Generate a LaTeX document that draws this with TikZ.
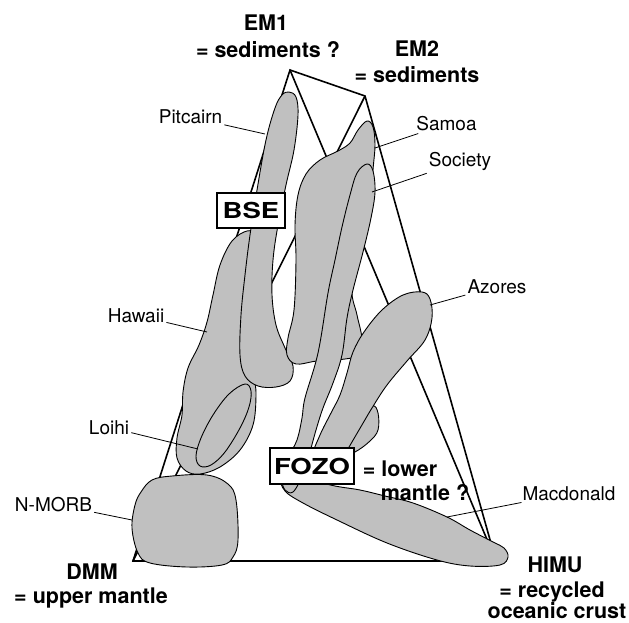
\documentclass[tikz,border=0pt]{standalone}
\usepackage{graphicx}
\usepackage{fontspec}
\setmainfont{TeX Gyre Heros}
\usetikzlibrary{positioning}
\definecolor{blobgray}{RGB}{192,192,192}

\begin{document}
\begin{tikzpicture}[x=1pt,y=-1pt,
  tetra/.style={line width=1.6pt,line join=miter},
  blob/.style={draw=black,line width=0.9pt,fill=blobgray},
  leader/.style={line width=0.8pt},
  lbl/.style={font=\fontsize{19}{22}\selectfont,inner sep=2pt,anchor=base},
  endlbl/.style={font=\fontsize{21.5}{24}\selectfont\bfseries,inner sep=0pt,anchor=base},
  boxlbl/.style={draw,line width=1.8pt,fill=white,font=\fontsize{22}{24}\selectfont\bfseries,inner sep=0pt}]
  \useasboundingbox (0,0) rectangle (629,623);
  % End members of the tetrahedron
  \coordinate (em1) at (290,70);
  \coordinate (em2) at (365,96);
  \coordinate (dmm) at (133,561);
  \coordinate (himu) at (496,561);
  \draw[tetra] (em1) -- (em2) -- (himu) -- (dmm) -- cycle;
  \draw[tetra] (em1) -- (himu);
  \draw[tetra] (em2) -- (dmm);
  % Hawaii, Pitcairn, Loihi
  \draw[blob] plot[smooth cycle,tension=0.6] coordinates {(247,231) (254,236) (258,262) (256,300) (254,340) (254,372) (256,395) (253,425) (240,450) (220,467) (200,474) (186,471) (177,458) (177,438) (182,415) (183,392) (188,368) (199,345) (207,322) (213,295) (220,265) (232,241)};
  \draw[blob] plot[smooth cycle,tension=0.6] coordinates {(289,92) (296,97) (298,115) (294,150) (286,185) (278,225) (273,260) (272,295) (276,325) (285,348) (293,366) (290,381) (276,387) (258,386) (245,376) (240,355) (241,315) (245,275) (250,235) (257,190) (266,140) (275,108) (282,95)};
  \draw[blob] plot[smooth cycle,tension=0.6] coordinates {(245,384) (251,391) (249,407) (240,428) (225,452) (211,465) (200,466) (196,456) (201,438) (213,415) (229,394)};
  % N-MORB
  \draw[blob] plot[smooth cycle,tension=0.6] coordinates {(152,480) (172,476) (207,475) (228,484) (236,500) (238,540) (233,557) (222,565) (187,567) (150,563) (138,553) (132,528) (135,505) (141,492)};
  % Samoa
  \draw[blob] plot[smooth cycle,tension=0.6] coordinates {(367,121) (373,127) (375,145) (373,170) (370,210) (360,255) (352,290) (357,315) (362,340) (357,355) (345,359) (317,361) (296,364) (287,355) (288,338) (294,310) (296,260) (295,225) (298,195) (306,174) (320,160) (338,151) (350,143) (358,130)};
  % Macdonald
  \draw[blob] plot[smooth cycle,tension=0.6] coordinates {(282,478) (305,479) (335,486) (360,490) (385,496) (413,503) (447,517) (470,530) (493,542) (504,548) (508,557) (500,565) (470,566) (437,560) (387,543) (337,520) (303,503) (285,491)};
  % Society
  \draw[blob] plot[smooth cycle,tension=0.6] coordinates {(367,164) (373,171) (375,192) (371,218) (363,252) (353,290) (347,318) (342,355) (333,383) (323,408) (316,430) (309,455) (301,478) (293,492) (285,490) (282,478) (288,458) (297,440) (302,418) (305,398) (318,353) (328,293) (335,260) (342,227) (350,195) (357,173)};
  % Azores
  \draw[blob] plot[smooth cycle,tension=0.6] coordinates {(372,406) (378,413) (378,430) (370,441) (355,452) (338,458) (340,440) (355,420)};
  \draw[blob] plot[smooth cycle,tension=0.6] coordinates {(422,292) (430,299) (432,318) (425,340) (407,361) (387,385) (372,408) (359,430) (346,452) (333,472) (318,476) (312,458) (320,435) (331,413) (340,395) (347,373) (353,352) (364,332) (382,310) (403,295)};
  % Mantle reservoirs
  \node[boxlbl,minimum width=68pt,minimum height=35pt] (bse) at (251,210.5) {\scalebox{1.25}[1]{BSE}};
  \node[boxlbl,minimum width=84pt,minimum height=36pt] (fozo) at (312,466) {\scalebox{1.25}[1]{FOZO}};
  \node[endlbl] (fozo-a) at (400,476) {= lower};
  \node[endlbl] (fozo-b) at (425,500) {mantle ?};
  \node[endlbl] (em1-a) at (266,31) {EM1};
  \node[endlbl] (em1-b) at (268,58) {= sediments ?};
  \node[endlbl] (em2-a) at (417,57) {EM2};
  \node[endlbl] (em2-b) at (417,83) {= sediments};
  \node[endlbl] (dmm-a) at (92,579) {DMM};
  \node[endlbl] (dmm-b) at (91,603) {= upper mantle};
  \node[endlbl] (himu-a) at (555,572) {HIMU};
  \node[endlbl] (himu-b) at (552,597) {= recycled};
  \node[endlbl] (himu-c) at (557,618) {oceanic crust};
  % Island labels and leaders
  \node[lbl] (pitcairn) at (190.5,124) {Pitcairn};
  \node[lbl] (samoa) at (446.5,131) {Samoa};
  \node[lbl] (society) at (460,167) {Society};
  \node[lbl] (azores) at (497,293) {Azores};
  \node[lbl] (hawaii) at (136,322) {Hawaii};
  \node[lbl] (loihi) at (109,434) {Loihi};
  \node[lbl] (nmorb) at (53.5,511) {N-MORB};
  \node[lbl] (macdonald) at (569,500) {Macdonald};
  \coordinate (pitcairn-p) at (265,134);
  \coordinate (samoa-p) at (375,148);
  \coordinate (society-p) at (372,192);
  \coordinate (azores-p) at (430,305);
  \coordinate (hawaii-p) at (207,332);
  \coordinate (loihi-p) at (198,449);
  \coordinate (nmorb-p) at (132,520);
  \coordinate (macdonald-p) at (447,517);
  \foreach \n in {pitcairn,samoa,society,azores,hawaii,loihi,nmorb,macdonald}
    \draw[leader] (\n) -- (\n-p);
\end{tikzpicture}
\end{document}
